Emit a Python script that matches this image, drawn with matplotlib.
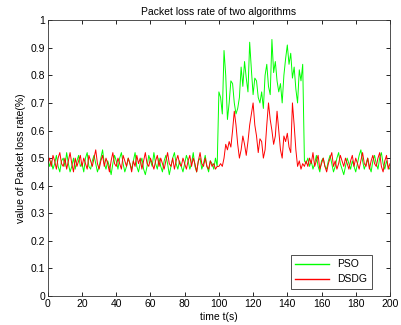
import matplotlib.pyplot as plt
import numpy as np

plt.rcParams['font.family'] = ['Liberation Sans', 'DejaVu Sans']

# time steps 0..200
t = np.arange(0, 201)

# PSO packet loss rate: steady, burst 100-150, steady
pso_pre = [0.50, 0.47, 0.49, 0.46, 0.48, 0.51, 0.47, 0.45, 0.49, 0.50,
           0.47, 0.52, 0.48, 0.45, 0.47, 0.50, 0.46, 0.49, 0.51, 0.47,
           0.48, 0.45, 0.50, 0.52, 0.47, 0.46, 0.49, 0.51, 0.48, 0.45,
           0.47, 0.50, 0.53, 0.48, 0.46, 0.49, 0.47, 0.44, 0.48, 0.51,
           0.49, 0.46, 0.50, 0.52, 0.48, 0.45, 0.47, 0.50, 0.48, 0.46,
           0.49, 0.52, 0.47, 0.45, 0.48, 0.50, 0.46, 0.44, 0.47, 0.51,
           0.49, 0.47, 0.52, 0.48, 0.46, 0.50, 0.47, 0.45, 0.49, 0.51,
           0.48, 0.44, 0.47, 0.50, 0.52, 0.48, 0.46, 0.49, 0.47, 0.45,
           0.48, 0.51, 0.49, 0.46, 0.48, 0.52, 0.47, 0.45, 0.49, 0.50,
           0.46, 0.48, 0.51, 0.47, 0.45, 0.49, 0.48, 0.46, 0.50, 0.47]
pso_burst = [0.74, 0.72, 0.66, 0.89, 0.80, 0.64, 0.70, 0.78, 0.77, 0.70,
             0.66, 0.68, 0.72, 0.83, 0.76, 0.85, 0.79, 0.74, 0.92, 0.82,
             0.73, 0.79, 0.78, 0.72, 0.70, 0.74, 0.68, 0.80, 0.84, 0.76,
             0.73, 0.93, 0.81, 0.85, 0.78, 0.74, 0.77, 0.70, 0.80, 0.86,
             0.91, 0.84, 0.88, 0.79, 0.83, 0.75, 0.70, 0.82, 0.78, 0.84,
             0.49]
pso_post = [0.48, 0.50, 0.47, 0.49, 0.46, 0.48, 0.51, 0.47, 0.45, 0.49,
            0.50, 0.47, 0.46, 0.49, 0.51, 0.48, 0.45, 0.47, 0.50, 0.52,
            0.48, 0.46, 0.44, 0.47, 0.50, 0.48, 0.46, 0.49, 0.47, 0.45,
            0.48, 0.51, 0.53, 0.49, 0.46, 0.48, 0.50, 0.47, 0.45, 0.49,
            0.51, 0.48, 0.46, 0.50, 0.52, 0.48, 0.46, 0.49, 0.47, 0.46]

# DSDG packet loss rate
dsdg_pre = [0.48, 0.50, 0.47, 0.51, 0.49, 0.46, 0.50, 0.52, 0.48, 0.47,
            0.50, 0.46, 0.49, 0.52, 0.48, 0.45, 0.50, 0.47, 0.49, 0.51,
            0.47, 0.50, 0.48, 0.46, 0.51, 0.49, 0.47, 0.50, 0.53, 0.48,
            0.46, 0.49, 0.51, 0.47, 0.50, 0.48, 0.45, 0.49, 0.52, 0.48,
            0.47, 0.50, 0.48, 0.46, 0.51, 0.49, 0.47, 0.50, 0.48, 0.45,
            0.49, 0.47, 0.51, 0.48, 0.50, 0.46, 0.49, 0.52, 0.48, 0.47,
            0.50, 0.48, 0.46, 0.49, 0.51, 0.47, 0.50, 0.48, 0.46, 0.49,
            0.52, 0.48, 0.47, 0.50, 0.46, 0.49, 0.51, 0.48, 0.47, 0.50,
            0.48, 0.46, 0.49, 0.51, 0.47, 0.50, 0.48, 0.45, 0.49, 0.52,
            0.48, 0.47, 0.50, 0.47, 0.46, 0.49, 0.47, 0.48, 0.46, 0.47]
dsdg_burst = [0.47, 0.48, 0.47, 0.50, 0.55, 0.53, 0.56, 0.54, 0.60, 0.67,
              0.62, 0.55, 0.50, 0.53, 0.58, 0.55, 0.51, 0.56, 0.62, 0.66,
              0.70, 0.62, 0.58, 0.52, 0.57, 0.56, 0.50, 0.53, 0.62, 0.70,
              0.64, 0.60, 0.55, 0.58, 0.67, 0.60, 0.53, 0.50, 0.58, 0.56,
              0.59, 0.54, 0.52, 0.70, 0.62, 0.53, 0.47, 0.49, 0.46, 0.48,
              0.47]
dsdg_post = [0.49, 0.47, 0.50, 0.48, 0.52, 0.47, 0.49, 0.51, 0.46, 0.48,
             0.50, 0.47, 0.45, 0.48, 0.50, 0.52, 0.47, 0.49, 0.46, 0.48,
             0.51, 0.49, 0.47, 0.50, 0.48, 0.46, 0.49, 0.51, 0.47, 0.50,
             0.48, 0.46, 0.49, 0.52, 0.48, 0.47, 0.50, 0.46, 0.49, 0.51,
             0.48, 0.47, 0.50, 0.52, 0.47, 0.45, 0.49, 0.51, 0.46, 0.48]

pso = np.array(pso_pre + pso_burst + pso_post)
dsdg = np.array(dsdg_pre + dsdg_burst + dsdg_post)

fig = plt.figure(figsize=(4.02, 3.25), dpi=100)
ax = fig.add_axes([0.119, 0.089, 0.851, 0.849])

ax.plot(t, pso, color=(0, 1, 0), linewidth=0.7, label='PSO')
ax.plot(t, dsdg, color=(1, 0, 0), linewidth=0.7, label='DSDG')

ax.set_xlim(0, 200)
ax.set_ylim(0, 1)
ax.set_xticks(np.arange(0, 201, 20))
ax.set_yticks(np.arange(0, 1.01, 0.1))
ax.set_yticklabels(['0', '0.1', '0.2', '0.3', '0.4', '0.5', '0.6', '0.7', '0.8', '0.9', '1'])
ax.tick_params(direction='in', top=True, right=True, length=3, width=0.6, labelsize=7.5, pad=2)
for sp in ax.spines.values():
    sp.set_linewidth(0.6)
    sp.set_color('#333333')

ax.set_title('Packet loss rate of two algorithms', fontsize=7.5, pad=3.5)
ax.set_xlabel('time t(s)', fontsize=7.5, labelpad=2)
ax.set_ylabel('value of Packet loss rate(%)', fontsize=7.5, labelpad=3)

leg = ax.legend(loc='lower right', bbox_to_anchor=(0.947, 0.025), borderaxespad=0,
                fontsize=7.5, fancybox=False, edgecolor='#333333', framealpha=1,
                handlelength=3.2, borderpad=0.45, labelspacing=0.5)
leg.get_frame().set_linewidth(0.6)
for ln in leg.get_lines():
    ln.set_linewidth(1.0)

fig.savefig('out.png', dpi=100)
